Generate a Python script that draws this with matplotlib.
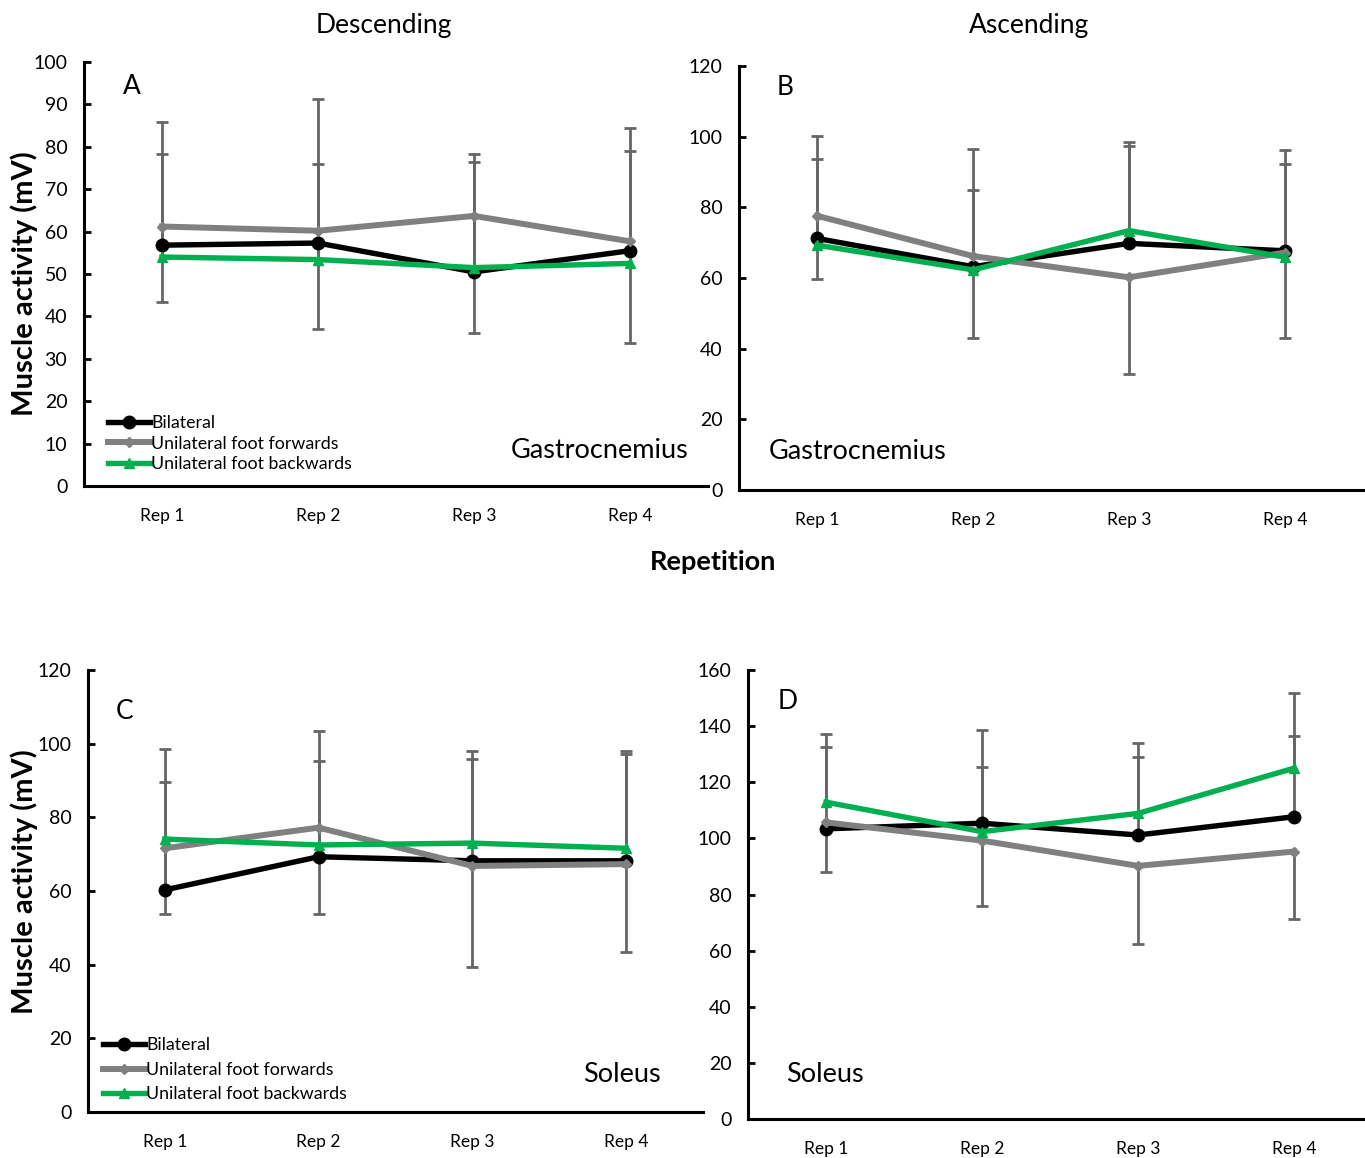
import numpy as np
import matplotlib
matplotlib.use('Agg')
import matplotlib.pyplot as plt

plt.rcParams['font.family'] = ['Lato', 'DejaVu Sans']

reps = ['Rep 1', 'Rep 2', 'Rep 3', 'Rep 4']
series_names = ['Bilateral', 'Unilateral foot forwards', 'Unilateral foot backwards']

# Descending - gastrocnemius (mean, SD)
desc_gas_bil = [56.8, 57.3, 50.5, 55.5]
desc_gas_fwd = [61.2, 60.2, 63.7, 57.7]
desc_gas_bwd = [54.0, 53.4, 51.5, 52.5]
desc_gas_bil_sd = [29.1, 33.9, 27.8, 28.9]
desc_gas_fwd_sd = [17.7, 23.2, 27.5, 24.0]
desc_gas_bwd_sd = [24.2, 22.6, 24.8, 26.5]

# Ascending - gastrocnemius
asc_gas_bil = [71.2, 63.2, 69.8, 67.7]
asc_gas_fwd = [77.6, 66.2, 60.2, 67.2]
asc_gas_bwd = [69.3, 62.3, 73.4, 65.9]
asc_gas_bil_sd = [28.9, 33.4, 27.7, 28.6]
asc_gas_fwd_sd = [17.8, 23.1, 27.5, 24.3]
asc_gas_bwd_sd = [24.4, 22.7, 25.1, 26.3]

# Descending - soleus
desc_sol_bil = [60.3, 69.3, 68.2, 68.2]
desc_sol_fwd = [71.6, 77.2, 66.8, 67.3]
desc_sol_bwd = [74.1, 72.5, 73.0, 71.6]
desc_sol_bil_sd = [29.4, 34.2, 29.8, 29.9]
desc_sol_fwd_sd = [17.8, 23.4, 27.3, 23.9]
desc_sol_bwd_sd = [24.5, 22.8, 22.8, 25.5]

# Ascending - soleus
asc_sol_bil = [103.4, 105.4, 101.2, 107.7]
asc_sol_fwd = [105.7, 99.2, 90.2, 95.3]
asc_sol_bwd = [112.9, 102.4, 108.9, 125.0]
asc_sol_bil_sd = [29.3, 33.1, 27.9, 28.8]
asc_sol_fwd_sd = [17.8, 23.3, 27.7, 24.0]
asc_sol_bwd_sd = [24.3, 22.9, 25.0, 26.7]

W, H = 1365, 1158
fig = plt.figure(figsize=(W / 100, H / 100), dpi=100)


def px_axes(left, right, top, bottom):
    return fig.add_axes([left / W, 1 - bottom / H, (right - left) / W, (bottom - top) / H])


styles = [
    dict(color='black', marker='o', markersize=9, lw=3.9),
    dict(color='#808080', marker='D', markersize=5, lw=4.3),
    dict(color='#00b050', marker='^', markersize=7.5, lw=3.9),
]
err_col = '#666666'


def panel(ax, means, sds, ymax, ystep, letter, letter_xy, muscle, muscle_xy, muscle_ha, legend=None):
    x = np.arange(4) + 0.5
    # error bars: bilateral and backwards drawn upwards, forwards downwards
    for m, sd, up in zip(means, sds, [True, False, True]):
        m = np.array(m)
        sd = np.array(sd)
        end = m + sd if up else m - sd
        ax.vlines(x, m, end, color=err_col, lw=2.0, zorder=2)
        ax.plot(x, end, ls='none', marker='_', ms=8, mew=2.0, color=err_col, zorder=2)
    for m, st, name in zip(means, styles, series_names):
        ax.plot(x, m, label=name, zorder=3, **st)
    ax.set_xlim(0, 4)
    ax.set_ylim(0, ymax)
    ax.set_yticks(np.arange(0, ymax + 1, ystep))
    ax.set_xticks(x)
    ax.set_xticklabels(reps)
    ax.spines['top'].set_visible(False)
    ax.spines['right'].set_visible(False)
    ax.spines['left'].set_linewidth(2.2)
    ax.spines['bottom'].set_linewidth(2.2)
    ax.tick_params(axis='y', direction='in', length=5, width=2, labelsize=14, pad=12)
    ax.tick_params(axis='x', length=0, labelsize=12.5, pad=16)
    ax.text(*letter_xy, letter, transform=ax.transAxes, fontsize=19, va='center', ha='left')
    ax.text(*muscle_xy, muscle, transform=ax.transAxes, fontsize=19.5, va='center', ha=muscle_ha)
    if legend is not None:
        ax.legend(loc='lower left', bbox_to_anchor=legend[0], frameon=False, fontsize=12.8,
                  handlelength=2.4, handletextpad=0.05, labelspacing=legend[1], borderaxespad=0,
                  borderpad=0)


axA = px_axes(84, 708, 62, 486)
panel(axA,
      [desc_gas_bil, desc_gas_fwd, desc_gas_bwd],
      [desc_gas_bil_sd, desc_gas_fwd_sd, desc_gas_bwd_sd],
      100, 10, 'A', (0.062, 0.943), 'Gastrocnemius', (0.968, 0.084), 'right',
      legend=((0.038, 0.033), 0.25))

axB = px_axes(739, 1363, 66, 490)
panel(axB,
      [asc_gas_bil, asc_gas_fwd, asc_gas_bwd],
      [asc_gas_bil_sd, asc_gas_fwd_sd, asc_gas_bwd_sd],
      120, 20, 'B', (0.061, 0.95), 'Gastrocnemius', (0.047, 0.09), 'left')

axC = px_axes(88, 703, 670, 1112)
panel(axC,
      [desc_sol_bil, desc_sol_fwd, desc_sol_bwd],
      [desc_sol_bil_sd, desc_sol_fwd_sd, desc_sol_bwd_sd],
      120, 20, 'C', (0.045, 0.905), 'Soleus', (0.932, 0.085), 'right',
      legend=((0.024, 0.022), 0.48))

axD = px_axes(748, 1372, 670, 1119)
panel(axD,
      [asc_sol_bil, asc_sol_fwd, asc_sol_bwd],
      [asc_sol_bil_sd, asc_sol_fwd_sd, asc_sol_bwd_sd],
      160, 20, 'D', (0.048, 0.93), 'Soleus', (0.061, 0.098), 'left')

fig.text(384 / W, 1 - 25 / H, 'Descending', fontsize=19, ha='center', va='center')
fig.text(1029 / W, 1 - 25 / H, 'Ascending', fontsize=19, ha='center', va='center')
fig.text(713 / W, 1 - 562 / H, 'Repetition', fontsize=19.5, fontweight='bold', ha='center', va='center')
fig.text(24 / W, 1 - 284 / H, 'Muscle activity (mV)', fontsize=21, fontweight='bold',
         rotation=90, ha='center', va='center')
fig.text(24 / W, 1 - 882 / H, 'Muscle activity (mV)', fontsize=21, fontweight='bold',
         rotation=90, ha='center', va='center')

fig.savefig('out.png', dpi=100)
